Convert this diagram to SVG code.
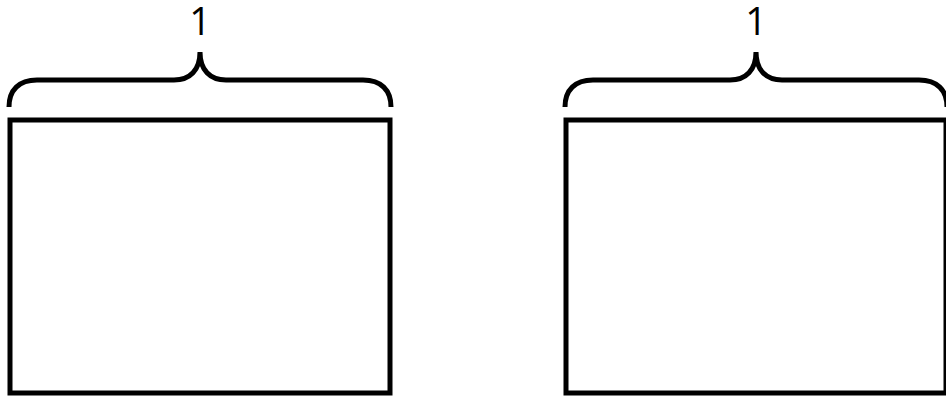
<svg xmlns="http://www.w3.org/2000/svg" width="946" height="396" viewBox="0 0 946 396">
<style>
.box{fill:#fff;stroke:#000;stroke-width:5}
.brace{fill:none;stroke:#000;stroke-width:5}
.lbl{font-family:"Open Sans","Noto Sans","Liberation Sans",sans-serif;font-size:38px;fill:#000;text-anchor:middle}
</style>
<rect width="946" height="396" fill="#fff"/>
<g id="left">
<rect class="box" x="10" y="120" width="380" height="273"/>
<path class="brace" d="M9,107 C9,90 19,80 37,80 L174,80 C190,80 200,70 200,52 C200,70 210,80 226,80 L363,80 C381,80 391,90 391,107"/>
<text class="lbl" x="200" y="35">1</text>
</g>
<g id="right">
<rect class="box" x="566" y="120" width="380" height="273"/>
<path class="brace" d="M565,107 C565,90 575,80 593,80 L730,80 C746,80 756,70 756,52 C756,70 766,80 782,80 L919,80 C937,80 947,90 947,107"/>
<text class="lbl" x="756" y="35">1</text>
</g>
<g id="connectors"/>
</svg>
